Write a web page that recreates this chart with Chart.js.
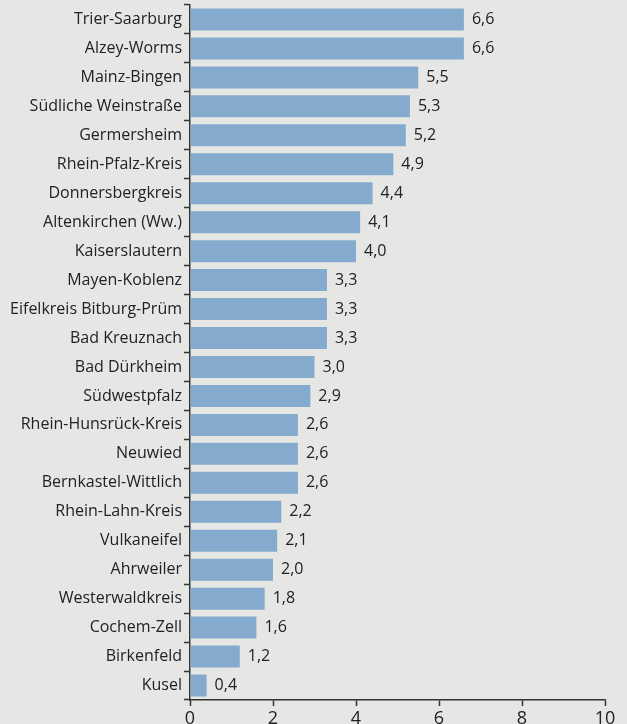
<!DOCTYPE html>
<html>
<head>
<meta charset="utf-8">
<script src="https://cdn.jsdelivr.net/npm/chart.js@4/dist/chart.umd.min.js"></script>
<style>
  html, body { margin: 0; padding: 0; background: #e6e6e4; }
  #wrap { width: 627px; height: 724px; }
</style>
</head>
<body>
<div id="wrap"><canvas id="kreiseChart"></canvas></div>
<script>
// Landkreise and their values
const districts = [
  "Trier-Saarburg", "Alzey-Worms", "Mainz-Bingen", "Südliche Weinstraße",
  "Germersheim", "Rhein-Pfalz-Kreis", "Donnersbergkreis", "Altenkirchen (Ww.)",
  "Kaiserslautern", "Mayen-Koblenz", "Eifelkreis Bitburg-Prüm", "Bad Kreuznach",
  "Bad Dürkheim", "Südwestpfalz", "Rhein-Hunsrück-Kreis", "Neuwied",
  "Bernkastel-Wittlich", "Rhein-Lahn-Kreis", "Vulkaneifel", "Ahrweiler",
  "Westerwaldkreis", "Cochem-Zell", "Birkenfeld", "Kusel"
];
const values = [
  6.6, 6.6, 5.5, 5.3, 5.2, 4.9, 4.4, 4.1, 4.0, 3.3, 3.3, 3.3,
  3.0, 2.9, 2.6, 2.6, 2.6, 2.2, 2.1, 2.0, 1.8, 1.6, 1.2, 0.4
];
const xTicks = [0, 2, 4, 6, 8, 10];

const fontFamily = "'Open Sans', 'Noto Sans', sans-serif";

// draws "6,6" etc. right of each bar
const valueLabels = {
  id: "valueLabels",
  afterDatasetsDraw(chart) {
    const ctx = chart.ctx;
    const meta = chart.getDatasetMeta(0);
    ctx.save();
    ctx.font = "16px " + fontFamily;
    ctx.fillStyle = "#222";
    ctx.textAlign = "left";
    ctx.textBaseline = "middle";
    meta.data.forEach((bar, i) => {
      const txt = values[i].toFixed(1).replace(".", ",");
      ctx.fillText(txt, bar.x + 8, bar.y);
    });
    ctx.restore();
  }
};

const ctx = document.getElementById("kreiseChart").getContext("2d");
const kreiseChart = new Chart(ctx, {
  type: "bar",
  data: {
    labels: districts,
    datasets: [
      {
        data: values,
        backgroundColor: "#84abcd",
        borderWidth: 0,
        categoryPercentage: 1,
        barPercentage: 0.76,
      },
    ],
  },
  options: {
    indexAxis: "y",
    responsive: true,
    maintainAspectRatio: false,
    animation: false,
    layout: { padding: { top: 5, right: 22, left: 0, bottom: 0 } },
    plugins: {
      legend: { display: false },
      tooltip: { enabled: false },
    },
    scales: {
      x: {
        min: 0,
        max: 10,
        afterBuildTicks: (scale) => {
          scale.ticks = xTicks.map((v) => ({ value: v }));
        },
        afterFit: (scale) => { scale.height = 24; },
        border: { color: "#333", width: 1.5 },
        grid: {
          drawOnChartArea: false,
          tickLength: 6,
          tickWidth: 1.5,
          tickColor: "#333",
        },
        ticks: {
          color: "#222",
          padding: 2,
          font: { family: fontFamily, size: 18 },
        },
      },
      y: {
        afterFit: (scale) => {
          scale.width = 190;
          scale.paddingTop = 0;
          scale.paddingBottom = 0;
        },
        border: { color: "#333", width: 1.5 },
        grid: {
          offset: true,
          drawOnChartArea: false,
          tickLength: 6,
          tickWidth: 1.5,
          tickColor: "#333",
        },
        ticks: {
          color: "#222",
          padding: 2,
          autoSkip: false,
          font: { family: fontFamily, size: 16 },
        },
      },
    },
  },
  plugins: [valueLabels],
});
</script>
</body>
</html>
